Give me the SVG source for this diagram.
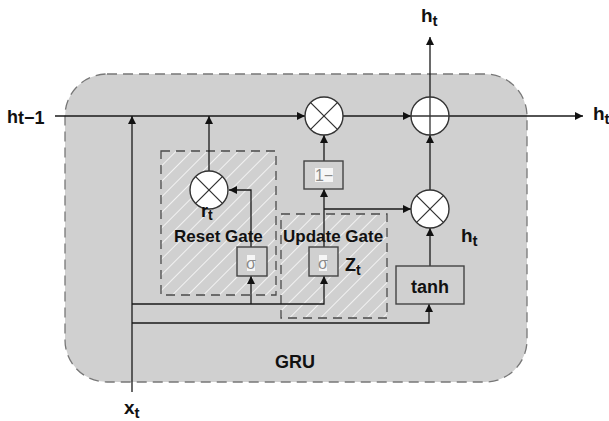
<svg xmlns="http://www.w3.org/2000/svg" width="609" height="421" viewBox="0 0 609 421">
<defs>
<marker id="ah" viewBox="0 0 10 10" refX="10" refY="5" markerWidth="9" markerHeight="8" markerUnits="userSpaceOnUse" orient="auto"><path d="M0,0 L10,5 L0,10 z" fill="#111"/></marker>
<pattern id="hatch" width="11" height="11" patternUnits="userSpaceOnUse" patternTransform="rotate(45)"><rect width="11" height="11" fill="#d0d0d0"/><line x1="0.5" y1="0" x2="0.5" y2="11" stroke="#f2f2f2" stroke-width="1"/></pattern>
</defs>
<style>
.lbl{font-family:"Liberation Sans",Arial,sans-serif;font-weight:bold;fill:#111}
.gate{fill:url(#hatch);stroke:#4a4a4a;stroke-width:1.3;stroke-dasharray:9 6}
.op{fill:#fff;stroke:#333;stroke-width:1.4}
.box{fill:#d0d0d0;stroke:#444;stroke-width:1.4}
.conn path{fill:none;stroke:#1a1a1a;stroke-width:1.3}
.arr{marker-end:url(#ah)}
.hl{fill:#f6f6f6}
.fn{font-family:"Liberation Sans",Arial,sans-serif;fill:#8a8a8a}
</style>
<rect width="609" height="421" fill="#fff"/>
<g id="gru">
<rect x="65" y="74" width="462" height="308" rx="42" ry="42" fill="#d0d0d0" stroke="#777" stroke-width="1.3" stroke-dasharray="10 6"/>
<text class="lbl" x="295" y="368" font-size="18" text-anchor="middle">GRU</text>
</g>
<g id="reset-gate">
<rect class="gate" x="161" y="151" width="115" height="144"/>
<text class="lbl" x="174" y="242" font-size="17">Reset Gate</text>
</g>
<g id="update-gate">
<rect class="gate" x="281" y="214" width="106" height="104"/>
<text class="lbl" x="283" y="242" font-size="17">Update Gate</text>
</g>
<g class="conn" id="connectors">
<path class="arr" d="M55,116 H305"/>
<path class="arr" d="M132,392 V116"/>
<path class="arr" d="M209,171 V116"/>
<path class="arr" d="M251,247 V190 H229"/>
<path class="arr" d="M132,304 H324 V276"/>
<path class="arr" d="M251,304 V276"/>
<path class="arr" d="M132,323 H429 V304"/>
<path class="arr" d="M324,247 V189"/>
<path class="arr" d="M324,209 H411"/>
<path class="arr" d="M324,161 V135"/>
<path class="arr" d="M343,116 H411"/>
<path class="arr" d="M430,266 V228"/>
<path class="arr" d="M430,190 V135"/>
<path class="arr" d="M449,116 H583"/>
<path class="arr" d="M430,97 V37"/>
</g>
<g id="reset-mult">
<circle class="op" cx="209" cy="190" r="19"/>
<path d="M195.6,176.6 L222.4,203.4 M222.4,176.6 L195.6,203.4" stroke="#333" stroke-width="1.3"/>
<text class="lbl" x="201" y="217" font-size="18">r<tspan font-size="14" dy="3">t</tspan></text>
</g>
<g id="reset-sigma">
<rect class="box" x="237" y="247" width="30" height="29"/>
<rect class="hl" x="247" y="255" width="8" height="16"/>
<text class="fn" x="251" y="269" font-size="16" text-anchor="middle">σ</text>
</g>
<g id="update-sigma">
<rect class="box" x="309" y="247" width="29" height="29"/>
<rect class="hl" x="319" y="255" width="8" height="16"/>
<text class="fn" x="323" y="269" font-size="16" text-anchor="middle">σ</text>
<text class="lbl" x="345" y="271" font-size="18">Z<tspan font-size="14" dy="4">t</tspan></text>
</g>
<g id="one-minus">
<rect class="box" x="304" y="161" width="39" height="28"/>
<rect class="hl" x="315" y="168" width="18" height="14"/>
<text class="fn" x="324" y="181" font-size="16" text-anchor="middle">1−</text>
</g>
<g id="upper-mult">
<circle class="op" cx="324" cy="116" r="19"/>
<path d="M310.6,102.6 L337.4,129.4 M337.4,102.6 L310.6,129.4" stroke="#333" stroke-width="1.3"/>
</g>
<g id="plus">
<circle class="op" cx="430" cy="116" r="19"/>
<path d="M411,116 H449 M430,97 V135" stroke="#333" stroke-width="1.3"/>
</g>
<g id="lower-mult">
<circle class="op" cx="430" cy="209" r="19"/>
<path d="M416.6,195.6 L443.4,222.4 M443.4,195.6 L416.6,222.4" stroke="#333" stroke-width="1.3"/>
<text class="lbl" x="461" y="242" font-size="19">h<tspan font-size="15" dy="4">t</tspan></text>
</g>
<g id="tanh">
<rect class="box" x="396" y="266" width="68" height="38"/>
<text class="lbl" x="430" y="293" font-size="18" text-anchor="middle">tanh</text>
</g>
<g id="labels">
<text class="lbl" x="7" y="123" font-size="18">h<tspan dy="1">t−1</tspan></text>
<text class="lbl" x="421" y="22" font-size="19">h<tspan font-size="15" dy="4">t</tspan></text>
<text class="lbl" x="593" y="120" font-size="19">h<tspan font-size="15" dy="4">t</tspan></text>
<text class="lbl" x="124" y="414" font-size="19">x<tspan font-size="15" dy="4">t</tspan></text>
</g>
</svg>
